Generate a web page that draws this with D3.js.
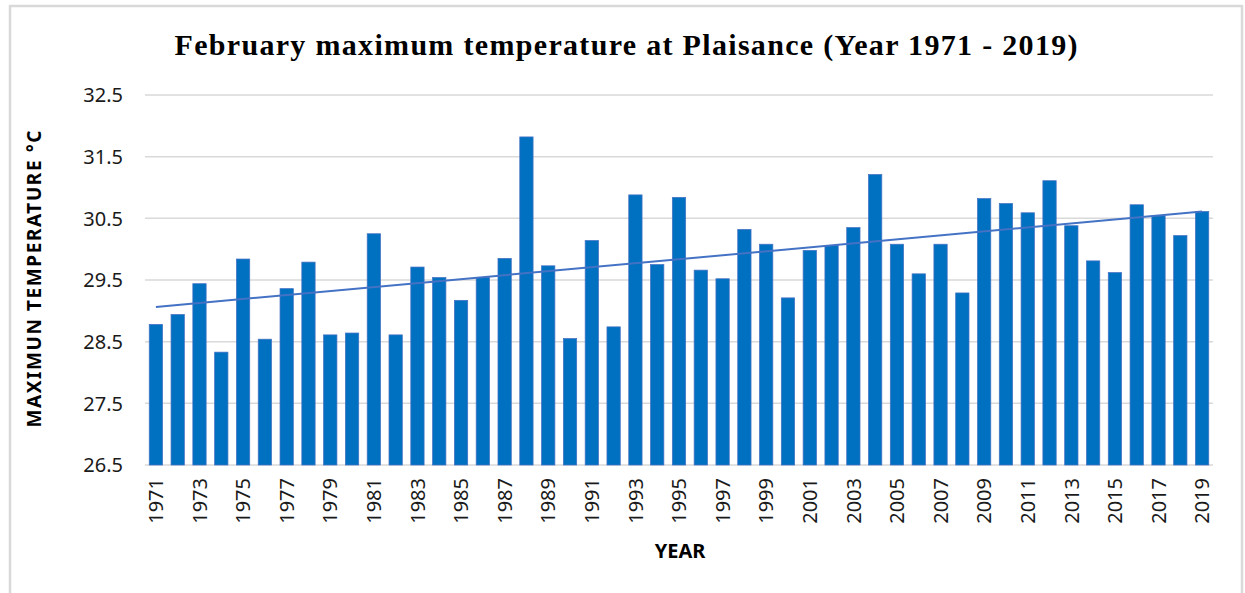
<!DOCTYPE html>
<meta charset="utf-8">
<style>
body { margin: 0; background: #fff; }
svg { font-family: 'Noto Sans', sans-serif; }
.tick-label { fill: #1a1a1a; font-size: 20px; }
.axis-title { fill: #000; font-weight: bold; font-size: 19px; }
.title { font-family: 'Liberation Serif', 'Times New Roman', serif; font-weight: bold; font-size: 30px; fill: #000; }
</style>
<svg width="1245" height="593"></svg>
<script src="https://d3js.org/d3.v7.min.js"></script>
<script>

var years = d3.range(1971, 2020);

var tmax = [28.78, 28.94, 29.44, 28.33, 29.84, 28.54, 29.36, 29.79, 28.61, 28.64,
            30.25, 28.61, 29.71, 29.54, 29.17, 29.54, 29.85, 31.82, 29.73, 28.55,
            30.14, 28.74, 30.88, 29.75, 30.84, 29.66, 29.52, 30.32, 30.08, 29.21,
            29.98, 30.06, 30.35, 31.21, 30.08, 29.60, 30.08, 29.29, 30.82, 30.74,
            30.59, 31.11, 30.38, 29.81, 29.62, 30.72, 30.54, 30.22, 30.61];

var yTicks = [26.5, 27.5, 28.5, 29.5, 30.5, 31.5, 32.5];

var svg = d3.select("svg");

// chart frame (open at the bottom, cut by the picture)
svg.append("rect")
  .attr("x", 10).attr("y", 6)
  .attr("width", 1232).attr("height", 620)
  .attr("fill", "none")
  .attr("stroke", "#d9d9d9")
  .attr("stroke-width", 2.5);

var x = d3.scaleBand()
  .domain(years)
  .range([145, 1213])
  .paddingInner(0.39)
  .paddingOuter(0.195);

var y = d3.scaleLinear()
  .domain([26.5, 32.5])
  .range([465, 95]);

// gridlines
svg.append("g")
  .selectAll("line")
  .data(yTicks)
  .enter().append("line")
    .attr("x1", 145).attr("x2", 1213)
    .attr("y1", function(d) { return y(d); })
    .attr("y2", function(d) { return y(d); })
    .attr("stroke", "#d9d9d9")
    .attr("stroke-width", 1.5);

// y tick labels
svg.append("g")
  .selectAll("text")
  .data(yTicks)
  .enter().append("text")
    .attr("class", "tick-label")
    .attr("x", 123)
    .attr("y", function(d) { return y(d); })
    .attr("dy", "0.36em")
    .attr("text-anchor", "end")
    .text(function(d) { return d3.format(".1f")(d); });

// bars
svg.append("g")
  .selectAll("rect")
  .data(tmax)
  .enter().append("rect")
    .attr("x", function(d, i) { return x(years[i]); })
    .attr("y", function(d) { return y(d); })
    .attr("width", x.bandwidth())
    .attr("height", function(d) { return y(26.5) - y(d); })
    .attr("fill", "#0070c0")
    .attr("stroke", "#4472c4")
    .attr("stroke-width", 0.75);

// linear trend line (least squares)
var n = tmax.length,
    mx = d3.mean(d3.range(n)),
    my = d3.mean(tmax),
    slope = d3.sum(tmax, function(d, i) { return (i - mx) * (d - my); }) /
            d3.sum(d3.range(n), function(i) { return (i - mx) * (i - mx); }),
    icpt = my - slope * mx;

svg.append("line")
  .attr("x1", x(years[0]) + x.bandwidth() / 2)
  .attr("x2", x(years[n - 1]) + x.bandwidth() / 2)
  .attr("y1", y(icpt))
  .attr("y2", y(icpt + slope * (n - 1)))
  .attr("stroke", "#4472c4")
  .attr("stroke-width", 2);

// x tick labels, every other year
svg.append("g")
  .selectAll("text")
  .data(years.filter(function(d, i) { return i % 2 == 0; }))
  .enter().append("text")
    .attr("class", "tick-label")
    .attr("transform", function(d) {
      return "translate(" + (x(d) + x.bandwidth() / 2) + ",478) rotate(-90)";
    })
    .attr("dy", "0.36em")
    .attr("text-anchor", "end")
    .text(function(d) { return d; });

// axis titles
svg.append("text")
  .attr("class", "axis-title")
  .attr("x", 680).attr("y", 558)
  .attr("text-anchor", "middle")
  .style("font-size", "20px")
  .text("YEAR");

svg.append("text")
  .attr("class", "axis-title")
  .attr("transform", "translate(41,279) rotate(-90)")
  .attr("text-anchor", "middle")
  .attr("textLength", 297)
  .attr("lengthAdjust", "spacing")
  .text("MAXIMUN TEMPERATURE °C");

svg.append("text")
  .attr("class", "title")
  .attr("x", 626).attr("y", 55)
  .attr("text-anchor", "middle")
  .attr("textLength", 903)
  .attr("lengthAdjust", "spacing")
  .text("February maximum temperature at Plaisance (Year 1971 - 2019)");

</script>
